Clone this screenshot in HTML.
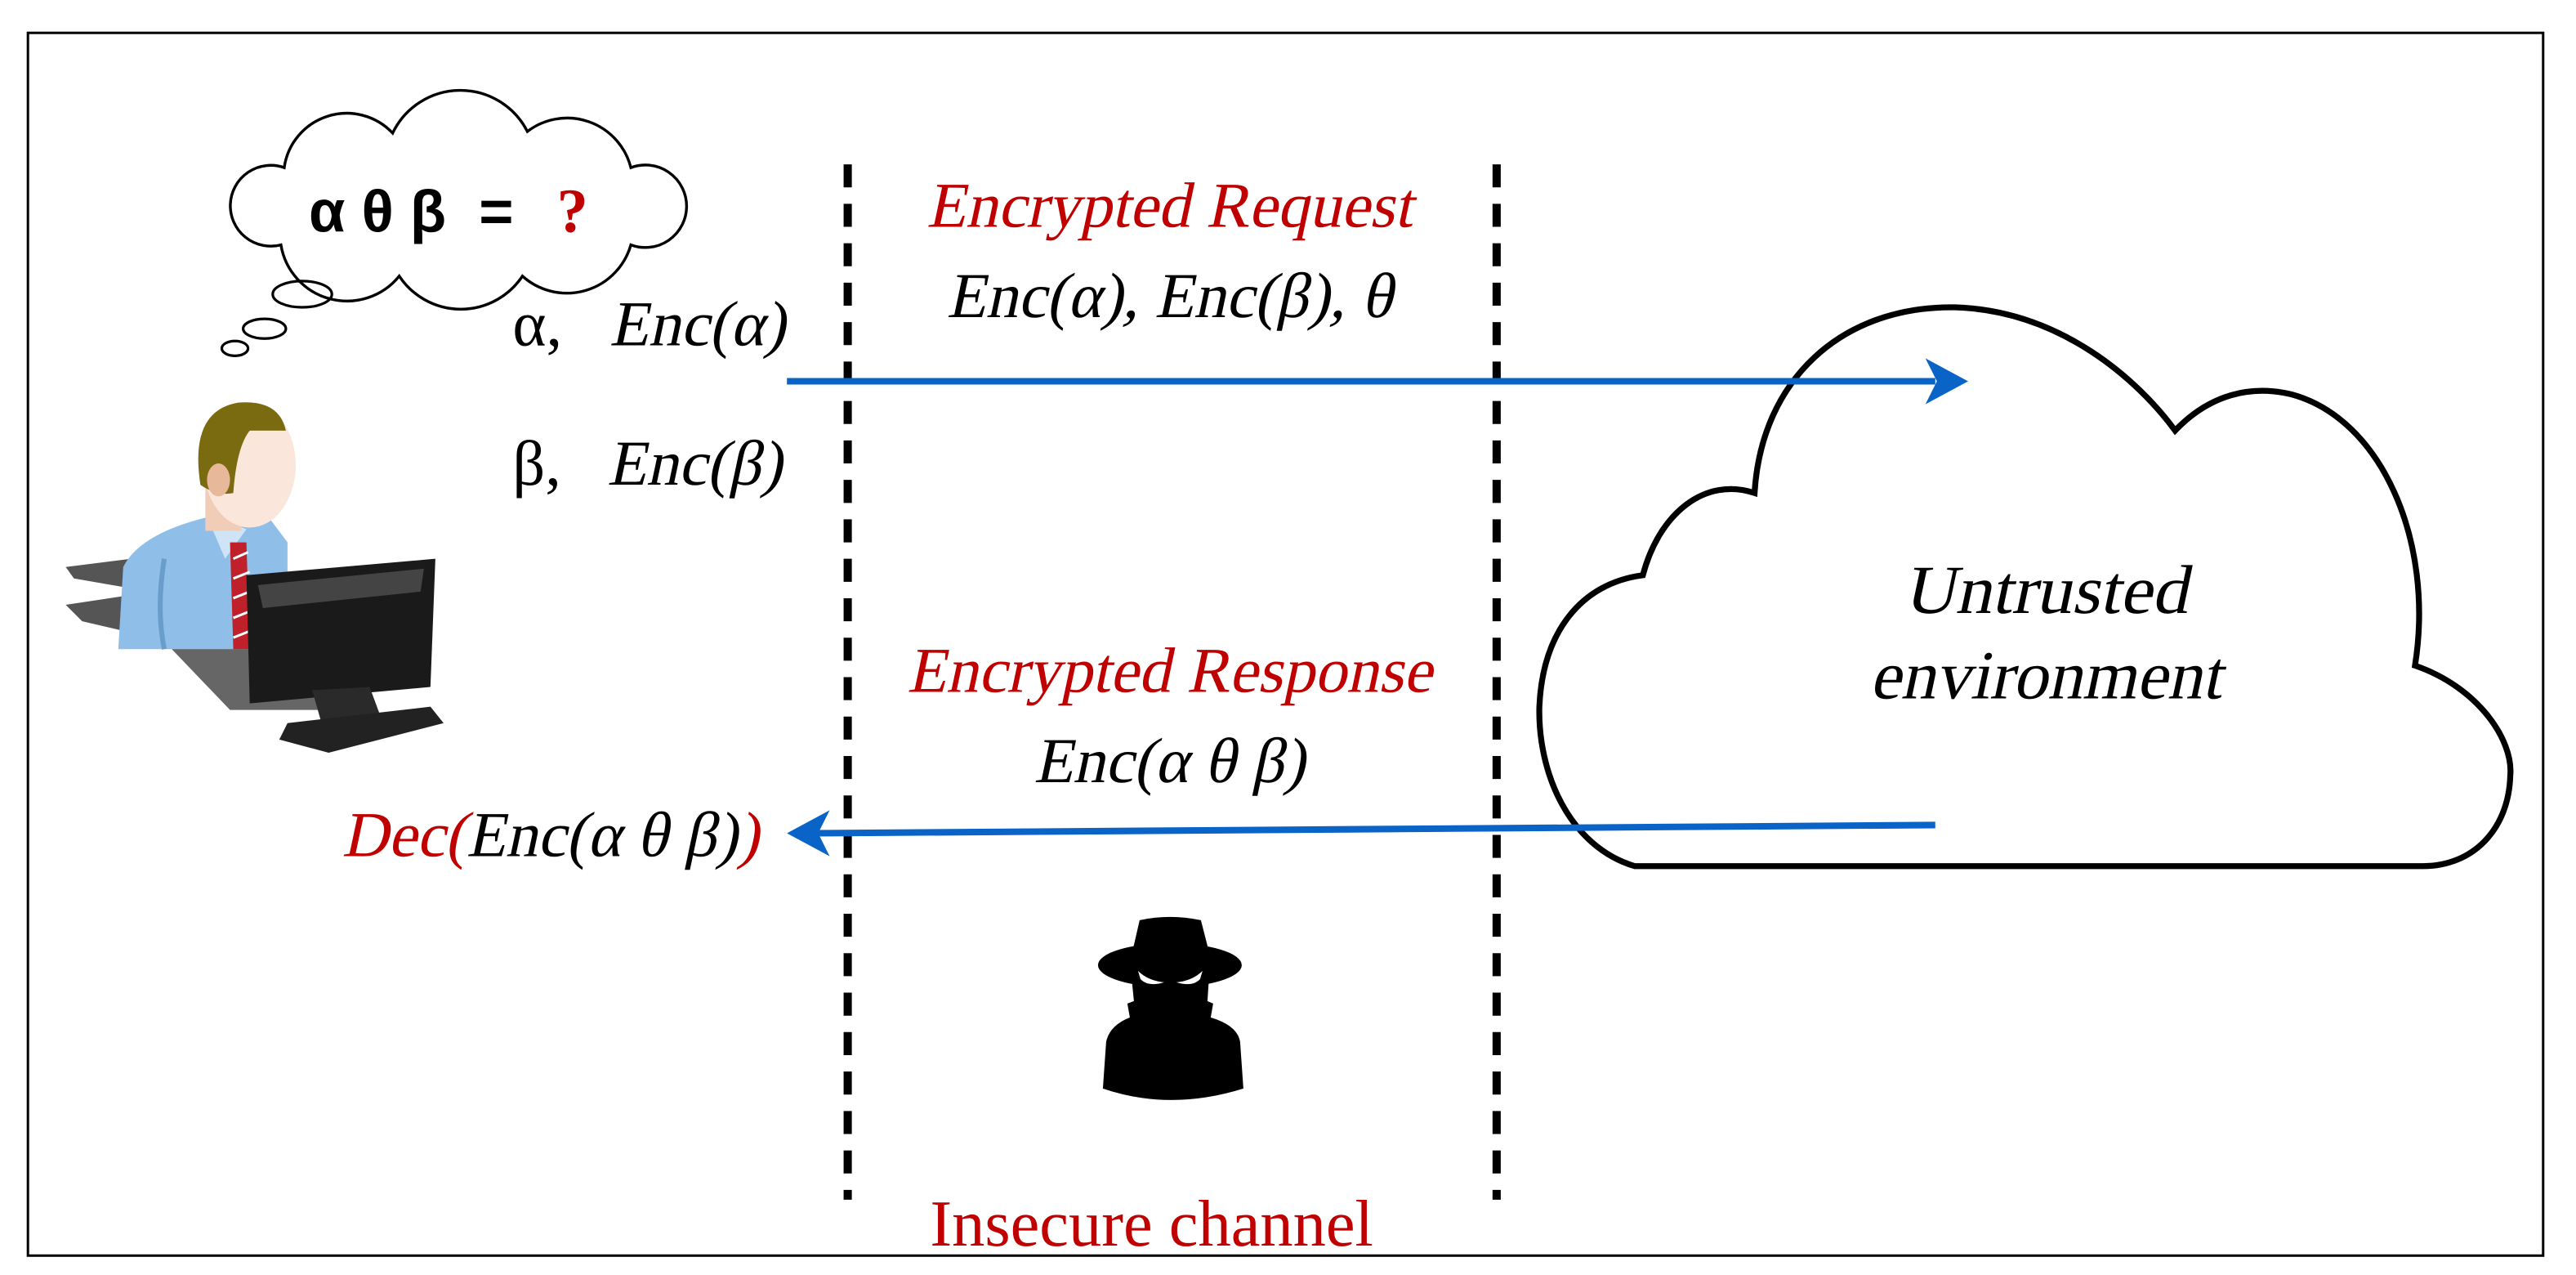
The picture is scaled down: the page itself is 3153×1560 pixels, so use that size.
<!DOCTYPE html>
<html><head><meta charset="utf-8"><style>
html,body{margin:0;padding:0;background:#fff;}
svg{display:block;}
</style></head><body>
<svg width="3153" height="1560" viewBox="0 0 1568 775.8" xmlns="http://www.w3.org/2000/svg">
<rect x="0" y="0" width="1568" height="776" fill="#fff"/>
<rect x="17" y="20" width="1531" height="744" fill="none" stroke="#000" stroke-width="1.5"/>

<!-- thought cloud -->
<path d="M171,149 A24.6,24.6 0 1 1 173,102 A38.4,38.4 0 0 1 239,81 A45.7,45.7 0 0 1 321,80 A40,40 0 0 1 384,102 A25.1,25.1 0 1 1 384,149 A40.5,40.5 0 0 1 318,168 A45,45 0 0 1 243,168 A40.8,40.8 0 0 1 171,149 Z" fill="#fff" stroke="#000" stroke-width="1.7"/>
<g fill="none" stroke="#000" stroke-width="1.6">
  <ellipse cx="184" cy="179" rx="18" ry="8"/>
  <ellipse cx="161" cy="200" rx="13" ry="6"/>
  <ellipse cx="143" cy="212" rx="8" ry="4.5"/>
</g>
<text x="188" y="141" font-family="Liberation Sans, DejaVu Sans, sans-serif" font-weight="bold" font-size="36">α θ β&#160; =&#160;</text>
<text x="339" y="141" font-family="Liberation Serif, serif" font-weight="bold" font-size="38" fill="#c00000">?</text>

<!-- person -->
<g>
  <path d="M40,345 L80,340 L80,358 L45,352 Z" fill="#555"/>
  <path d="M40,368 L80,362 L80,385 L50,378 Z" fill="#555"/>
  <path d="M95,385 L160,385 L210,432 L140,432 Z" fill="#666"/>
  <path d="M72,395 L75,345 Q85,325 125,315 L160,310 L175,330 L175,395 Z" fill="#8fbfe8"/>
  <path d="M100,340 Q95,370 100,395" stroke="#6a9ccc" stroke-width="3" fill="none"/>
  <path d="M125,312 L137,340 L150,322 Z" fill="#cfe4f7"/>
  <path d="M140,330 L150,330 L152,395 L142,395 Z" fill="#c0202a"/>
  <path d="M142,340 L151,336 M142,352 L152,348 M142,364 L152,360 M142,376 L152,372 M142,388 L152,384" stroke="#fff" stroke-width="1.5"/>
  <rect x="125" y="295" width="22" height="28" fill="#f1cdb8"/>
  <ellipse cx="152" cy="283" rx="28" ry="38" fill="#fbe6dc"/>
  <path d="M122,295 Q115,250 145,245 Q170,243 174,262 L152,262 Q144,272 142,300 Q132,302 122,295 Z" fill="#7a6a10"/>
  <ellipse cx="133" cy="292" rx="7" ry="10" fill="#e8b89a"/>
  <path d="M150,350 L265,340 L262,418 L152,428 Z" fill="#1a1a1a"/>
  <path d="M157,356 L258,346 L256,360 L160,370 Z" fill="#444"/>
  <path d="M190,420 L225,418 L235,445 L198,448 Z" fill="#2a2a2a"/>
  <path d="M175,440 L262,430 L270,440 L200,458 L170,450 Z" fill="#222"/>
</g>

<!-- dashed lines -->
<g stroke="#000" stroke-width="5" stroke-dasharray="14 10">
  <line x1="516" y1="100" x2="516" y2="730"/>
  <line x1="911" y1="100" x2="911" y2="730"/>
</g>

<!-- big cloud -->
<path d="M995,527 C955,515 936,470 937,430 C939,385 962,355 1000,350 C1010,312 1038,290 1068,300 C1072,232 1120,186 1190,187 C1255,189 1302,232 1324,262 C1345,240 1370,234 1395,240 C1450,255 1482,330 1470,405 C1508,418 1530,450 1528,472 C1527,505 1505,527 1475,527 Z" fill="#fff" stroke="#000" stroke-width="3.6" stroke-linejoin="miter"/>
<text transform="translate(79.3,0) skewX(-12)" x="1245" y="373" text-anchor="middle" font-family="Liberation Serif, serif" font-size="42" textLength="173" lengthAdjust="spacingAndGlyphs">Untrusted</text>
<text transform="translate(90.4,0) skewX(-12)" x="1245" y="425" text-anchor="middle" font-family="Liberation Serif, serif" font-size="42" textLength="214" lengthAdjust="spacingAndGlyphs">environment</text>

<!-- arrows -->
<g stroke="#0a64c8" stroke-width="4" fill="none">
  <line x1="479" y1="232" x2="1178" y2="232"/>
  <line x1="1178" y1="502" x2="496" y2="507"/>
</g>
<path d="M1198,232 L1172,218 L1179,232 L1172,246 Z" fill="#0a64c8"/>
<path d="M479,507 L505,493 L498,507 L505,521 Z" fill="#0a64c8"/>

<!-- texts -->
<g font-family="Liberation Serif, serif" font-size="39">
  <text transform="translate(29.1,0) skewX(-12)" x="712" y="138" text-anchor="middle" fill="#c00000">Encrypted Request</text>
  <text transform="translate(40.8,0) skewX(-12)" x="712" y="193" text-anchor="middle">Enc(α), Enc(β), θ</text>
  <text x="312" y="210">α,</text>
  <text transform="translate(44.6,0) skewX(-12)" x="478" y="210" text-anchor="end">Enc(α)</text>
  <text x="312" y="295">β,</text>
  <text transform="translate(62.7,0) skewX(-12)" x="476" y="295" text-anchor="end">Enc(β)</text>
  <text transform="translate(89.3,0) skewX(-12)" x="712" y="421" text-anchor="middle" fill="#c00000">Encrypted Response</text>
  <text transform="translate(101,0) skewX(-12)" x="712" y="476" text-anchor="middle">Enc(α θ β)</text>
  <text transform="translate(110.6,0) skewX(-12)" x="462" y="521" text-anchor="end"><tspan fill="#c00000">Dec(</tspan>Enc(α θ β)<tspan fill="#c00000">)</tspan></text>
  <text x="701" y="758" text-anchor="middle" fill="#c00000" font-size="40">Insecure channel</text>
</g>

<!-- spy (original coords) -->
<g transform="scale(0.49727)">
  <path d="M1395,1126 Q1432,1118 1470,1126 L1480,1165 L1386,1165 Z" fill="#000"/>
  <ellipse cx="1432" cy="1181" rx="88" ry="27" fill="#000"/>
  <path d="M1385,1195 L1480,1195 L1478,1225 L1485,1228 L1482,1245 Q1515,1255 1518,1275 L1522,1332 Q1432,1360 1350,1332 L1354,1275 Q1358,1255 1383,1245 L1380,1228 L1388,1225 Z" fill="#000"/>
  <path d="M1393,1188 Q1405,1200 1425,1202 Q1405,1208 1396,1198 Z" fill="#fff"/>
  <path d="M1472,1188 Q1460,1200 1440,1202 Q1460,1208 1469,1198 Z" fill="#fff"/>
</g>
</svg>
</body></html>
